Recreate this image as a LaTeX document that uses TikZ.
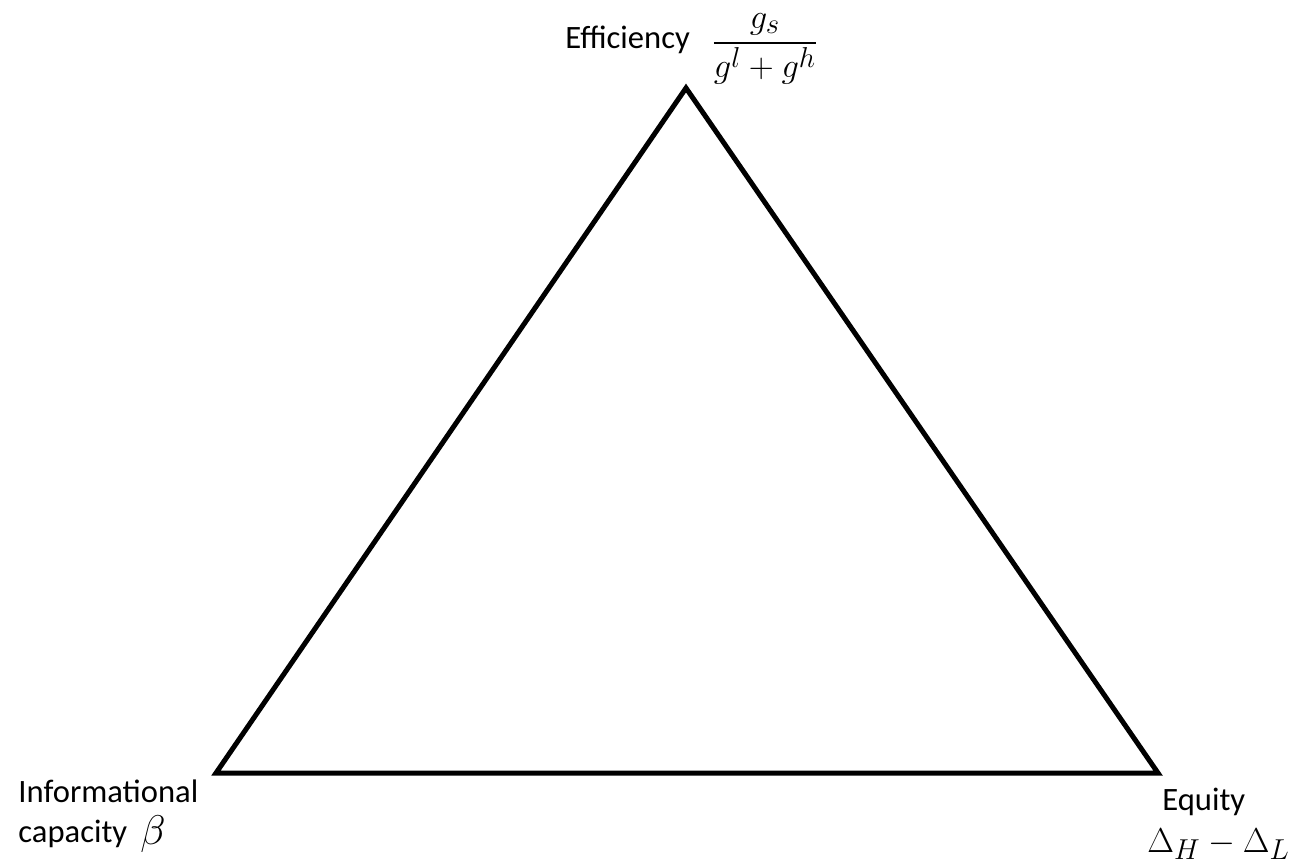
\documentclass[tikz,border=0pt]{standalone}
\usepackage{amsmath}
\usepackage{fontspec}
\setmainfont{Carlito}
\begin{document}
\begin{tikzpicture}[x=0.5pt,y=-0.5pt,
  lbl/.style={inner sep=0pt,font=\fontsize{16.3}{19}\selectfont},
  mth/.style={inner sep=0pt,font=\fontsize{19}{23}\selectfont},
  edge/.style={line width=2.5pt,line join=miter,black}]
\useasboundingbox (0,0) rectangle (1300,863);
\coordinate (top) at (686,88);
\coordinate (bl) at (216,773);
\coordinate (br) at (1158,773);
\draw[edge] (top) -- (bl) -- (br) -- cycle;
\node[lbl,anchor=base west] (eff) at (565,48) {Efficiency};
\node[mth,anchor=center] (frac) at (765,49) {$\dfrac{g_s}{g^l+g^h}$};
\node[lbl,anchor=base west] (inf) at (18,802) {Informational};
\node[lbl,anchor=base west] (cap) at (18,842) {capacity};
\node[inner sep=0pt,font=\fontsize{22}{26}\selectfont,anchor=base west] (beta) at (140,844) {$\beta$};
\node[lbl,anchor=base west] (eq) at (1162,810) {Equity};
\node[mth,anchor=base west] (del) at (1147,852) {$\Delta_H-\Delta_L$};
\end{tikzpicture}
\end{document}
